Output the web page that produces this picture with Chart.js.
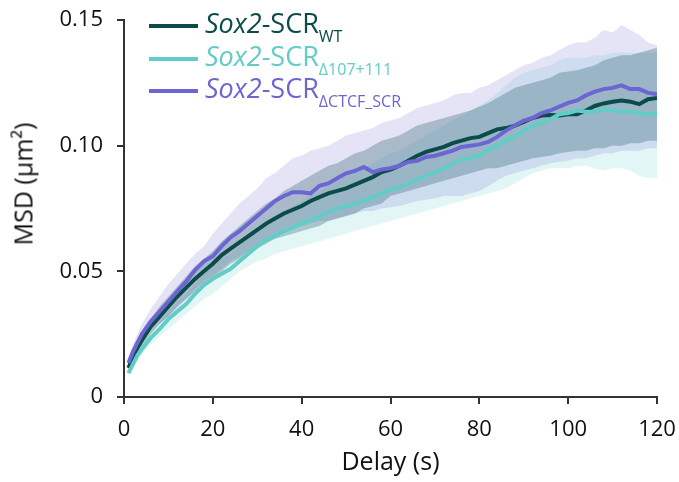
<!DOCTYPE html>
<html>
<head>
<meta charset="utf-8">
<script src="https://cdn.jsdelivr.net/npm/chart.js@4"></script>
<style>
  html, body { margin: 0; padding: 0; background: #fff; }
  #wrap { position: relative; width: 679px; height: 482px; font-family: "Open Sans", sans-serif; }
  #legend .line { position: absolute; left: 149px; width: 49px; height: 4px; }
  #legend .txt { position: absolute; left: 205px; font-size: 27px; line-height: 26px; white-space: nowrap; }
  #legend .txt i { font-style: italic; }
  #legend .txt span { position: relative; top: 9px; font-size: 16px; }
  #ytitle { position: absolute; left: 23px; top: 184px; transform: translate(-50%, -50%) rotate(-90deg);
            font-size: 25px; line-height: 1; white-space: nowrap; color: #111; }
</style>
</head>
<body>
<div id="wrap">
  <canvas id="myChart" width="679" height="482"></canvas>
  <div id="ytitle">MSD (μm²)</div>
  <div id="legend"></div>
</div>
<script>
// delay (s)
const delay = [1, 2, 3, 4, 6, 8, 10, 12, 14, 16, 18, 20, 22, 24, 26, 28, 30, 32, 34, 36,
  38, 40, 42, 44, 46, 48, 50, 52, 54, 56, 58, 60, 62, 64, 66, 68, 70, 72, 74, 76,
  78, 80, 82, 84, 86, 88, 90, 92, 94, 96, 98, 100, 102, 104, 106, 108, 110, 112, 114, 116,
  118, 120];

// mean MSD, um^2
const msdWT = [.0115, .016, .0195, .0225, .028, .032, .036, .040, .0435, .047,
  .050, .053, .0565, .059, .0615, .064, .0665, .069, .071, .073,
  .0745, .076, .078, .0795, .081, .082, .083, .0845, .086, .0875,
  .0895, .0905, .092, .094, .096, .0975, .0985, .0995, .101, .102,
  .103, .1035, .105, .1065, .107, .108, .1095, .111, .112, .1122,
  .112, .1125, .1125, .114, .1158, .1168, .1175, .118, .1175, .1165,
  .1185, .119];
const msdDel = [.0095, .013, .0165, .019, .0235, .027, .031, .034, .037, .041,
  .0445, .047, .049, .051, .054, .057, .060, .0625, .064, .066,
  .0675, .069, .0705, .072, .0735, .075, .076, .077, .078, .0795,
  .081, .0825, .0835, .085, .0865, .088, .0895, .091, .093, .0945,
  .095, .096, .0985, .100, .102, .1035, .106, .108, .109, .1105,
  .1125, .113, .114, .1135, .1135, .1145, .114, .1135, .1135, .113,
  .1125, .1127];
const msdCTCF = [.0135, .018, .0215, .025, .030, .034, .038, .042, .046, .0505,
  .054, .056, .060, .0635, .066, .069, .072, .075, .078, .080,
  .0815, .0815, .081, .084, .085, .087, .089, .090, .0915, .0895,
  .0905, .091, .092, .0935, .094, .0955, .096, .097, .098, .0995,
  .100, .1005, .1015, .1035, .106, .108, .110, .111, .113, .114,
  .1155, .117, .118, .120, .1215, .1225, .123, .124, .1225, .1225,
  .121, .1205];

// shaded error bands (upper / lower)
const wtHi = [.013, .018, .022, .025, .031, .036, .040, .044, .048, .052,
  .055, .058, .062, .065, .068, .071, .074, .077, .079, .082,
  .084, .086, .088, .090, .092, .093, .095, .097, .098, .100,
  .102, .103, .104, .106, .108, .109, .110, .111, .112, .113,
  .114, .1155, .117, .119, .121, .123, .124, .125, .126, .127,
  .129, .1295, .130, .131, .132, .134, .135, .136, .136, .137,
  .138, .139];
const wtLo = [.010, .014, .017, .020, .025, .029, .032, .036, .039, .042,
  .044, .047, .050, .053, .055, .057, .059, .061, .063, .064,
  .065, .066, .067, .068, .070, .071, .072, .073, .075, .076,
  .077, .080, .081, .082, .083, .084, .085, .086, .087, .088,
  .089, .090, .091, .091, .092, .093, .094, .095, .0955, .096,
  .097, .0975, .098, .098, .099, .099, .100, .100, .101, .101,
  .102, .102];
const delHi = [.0105, .0145, .018, .021, .026, .030, .034, .038, .041, .045,
  .049, .052, .055, .057, .060, .064, .067, .070, .072, .074,
  .076, .078, .080, .082, .084, .086, .088, .089, .091, .093,
  .095, .097, .098, .100, .102, .104, .106, .108, .110, .112,
  .114, .116, .118, .121, .124, .127, .129, .130, .131, .132,
  .134, .135, .135, .135, .136, .136, .137, .137, .137, .137,
  .137, .137];
const delLo = [.0085, .0115, .015, .017, .021, .024, .027, .030, .033, .036,
  .039, .041, .044, .047, .050, .052, .054, .055, .057, .058,
  .059, .060, .061, .062, .063, .064, .065, .066, .067, .068,
  .069, .070, .071, .072, .073, .074, .075, .076, .077, .078,
  .079, .080, .081, .082, .083, .085, .087, .089, .090, .091,
  .091, .091, .092, .092, .091, .090, .091, .091, .090, .088,
  .087, .087];
const ctcfHi = [.015, .021, .025, .029, .035, .040, .045, .049, .053, .057,
  .060, .065, .069, .073, .077, .080, .083, .087, .089, .092,
  .095, .096, .098, .099, .100, .102, .104, .105, .106, .107,
  .109, .110, .111, .113, .115, .116, .117, .118, .120, .121,
  .121, .123, .124, .126, .128, .130, .132, .133, .135, .136,
  .138, .140, .141, .141, .143, .146, .145, .148, .146, .144,
  .141, .140];
const ctcfLo = [.011, .015, .018, .021, .026, .029, .032, .035, .039, .043,
  .046, .048, .051, .054, .056, .058, .061, .063, .065, .067,
  .068, .068, .069, .070, .070, .071, .072, .073, .074, .074,
  .075, .0755, .076, .077, .078, .0785, .079, .080, .080, .080,
  .081, .082, .084, .086, .088, .089, .090, .091, .092, .093,
  .0935, .094, .095, .095, .096, .097, .097, .098, .098, .098,
  .099, .099];

const yTicks = [0, 0.05, 0.10, 0.15];

const colWT = '#0b4b4a';
const colDel = '#62ccc7';
const colCTCF = '#6b66d1';

const legendItems = [
  { sub: 'WT', color: colWT },
  { sub: '\u0394107+111', color: colDel },
  { sub: '\u0394CTCF_SCR', color: colCTCF }
];

function pts(ys) {
  return ys.map((y, i) => ({ x: delay[i], y: y }));
}

function lineSet(label, ys, color) {
  return {
    label: label,
    data: pts(ys),
    borderColor: color,
    borderWidth: 4,
    pointRadius: 0,
    fill: false,
    tension: 0
  };
}

function bandSet(ys, fillColor, fill) {
  return {
    data: pts(ys),
    borderWidth: 0,
    borderColor: 'rgba(0,0,0,0)',
    backgroundColor: fillColor,
    pointRadius: 0,
    fill: fill,
    tension: 0
  };
}

// keep the plot box fixed: ignore label overflow padding
function noPad(s) {
  s.paddingTop = 0; s.paddingBottom = 0; s.paddingLeft = 0; s.paddingRight = 0;
}

const FONT = '"Open Sans", sans-serif';
const AXIS = '#333';

const ctx = document.getElementById('myChart');
new Chart(ctx, {
  type: 'line',
  data: {
    datasets: [
      lineSet('Sox2-SCR ΔCTCF_SCR', msdCTCF, colCTCF),
      lineSet('Sox2-SCR Δ107+111', msdDel, colDel),
      lineSet('Sox2-SCR WT', msdWT, colWT),
      bandSet(wtHi, 'rgba(20,80,90,0.28)', '+1'),
      bandSet(wtLo, 'rgba(0,0,0,0)', false),
      bandSet(ctcfHi, 'rgba(110,105,210,0.18)', '+1'),
      bandSet(ctcfLo, 'rgba(0,0,0,0)', false),
      bandSet(delHi, 'rgba(95,205,200,0.18)', '+1'),
      bandSet(delLo, 'rgba(0,0,0,0)', false)
    ]
  },
  options: {
    responsive: false,
    animation: false,
    layout: { padding: { top: 20, right: 22, left: 0, bottom: 0 } },
    plugins: {
      legend: { display: false },
      tooltip: { enabled: false }
    },
    scales: {
      x: {
        type: 'linear',
        min: 0,
        max: 120,
        afterFit: (s) => { s.height = 85; noPad(s); },
        border: { color: AXIS, width: 2 },
        grid: { drawOnChartArea: false, drawTicks: true, tickLength: 7, color: AXIS, lineWidth: 2 },
        ticks: { stepSize: 20, maxRotation: 0, color: '#111', padding: 13, font: { family: FONT, size: 22 } },
        title: { display: true, text: 'Delay (s)', color: '#111', padding: { top: 0, bottom: 4 },
                 font: { family: FONT, size: 25 } }
      },
      y: {
        min: 0,
        max: 0.15,
        afterFit: (s) => { s.width = 124; noPad(s); },
        afterBuildTicks: (s) => { s.ticks = yTicks.map(v => ({ value: v })); },
        border: { color: AXIS, width: 2 },
        grid: { drawOnChartArea: false, drawTicks: true, tickLength: 7, color: AXIS, lineWidth: 2 },
        ticks: {
          color: '#111', padding: 14, font: { family: FONT, size: 22 },
          callback: (v) => v === 0 ? '0' : v.toFixed(2)
        },
        title: { display: false }
      }
    }
  }
});

// legend with italic gene name and subscripts
const legend = document.getElementById('legend');
const lineTops = [24, 57, 89];
const textTops = [10, 43, 75];
legendItems.forEach((item, i) => {
  const ln = document.createElement('div');
  ln.className = 'line';
  ln.style.top = lineTops[i] + 'px';
  ln.style.background = item.color;
  legend.appendChild(ln);

  const t = document.createElement('div');
  t.className = 'txt';
  t.style.top = textTops[i] + 'px';
  t.style.color = item.color;
  t.innerHTML = '<i>Sox2</i>-SCR<span>' + item.sub + '</span>';
  legend.appendChild(t);
});
</script>
</body>
</html>
